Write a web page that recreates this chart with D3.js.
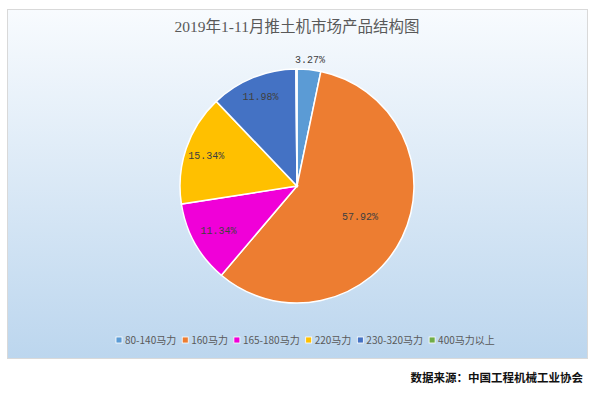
<!DOCTYPE html>
<html><head><meta charset="utf-8">
<script src="https://cdn.jsdelivr.net/npm/d3@7/dist/d3.min.js"></script>
<style>body{margin:0;background:#fff;}svg{display:block;}</style>
</head><body>
<svg id="c" width="600" height="405"></svg>
<script>
const categories = ["80-140马力","160马力","165-180马力","220马力","230-320马力","400马力以上"];
const values = [3.27, 57.92, 11.34, 15.34, 11.98, 0.15];
const labels = ["3.27%","57.92%","11.34%","15.34%","11.98%",""];
const colors = ["#5b9bd5","#ed7d31","#f000d8","#ffc000","#4472c4","#70ad47"];
const title = "2019年1-11月推土机市场产品结构图";
const source = "数据来源：中国工程机械工业协会";

const svg = d3.select("#c");
const defs = svg.append("defs");
const g = defs.append("linearGradient").attr("id","bg").attr("x1",0).attr("y1",0).attr("x2",0).attr("y2",1);
g.append("stop").attr("offset","0%").attr("stop-color","#f8fbfe");
g.append("stop").attr("offset","100%").attr("stop-color","#bcd6ee");

svg.append("rect").attr("x",7.5).attr("y",9.5).attr("width",580).attr("height",349)
  .attr("fill","url(#bg)").attr("stroke","#d9d9d9").attr("stroke-width",1);

svg.append("text").attr("x",297).attr("y",32).attr("text-anchor","middle")
  .attr("font-family","'Liberation Serif', 'Noto Sans CJK SC', serif").attr("font-size",15.5).attr("fill","#595959").text(title);

const cx = 297, cy = 186, R = 117;
const pie = d3.pie().sort(null).value(d=>d);
const arcs = pie(values);
const arc = d3.arc().innerRadius(0).outerRadius(R);
const pg = svg.append("g").attr("transform",`translate(${cx},${cy})`);
pg.selectAll("path").data(arcs).join("path").attr("d",arc)
  .attr("fill",(d,i)=>colors[i]).attr("stroke","#fff").attr("stroke-width",1.5);

const rf = [1.09,0.6,0.77,0.82,0.83,0];
pg.selectAll("text.lb").data(arcs).join("text").attr("class","lb")
  .attr("transform",(d,i)=>{const a=(d.startAngle+d.endAngle)/2; const r=R*rf[i]; return `translate(${r*Math.sin(a)},${-r*Math.cos(a)+3.5})`;})
  .attr("text-anchor","middle").attr("font-family","'Liberation Mono', monospace").attr("font-size",10)
  .attr("fill","#404040").text((d,i)=>labels[i]);

// legend
const lg = svg.append("g").attr("font-family","'Noto Sans CJK SC', sans-serif").attr("font-size",10).attr("fill","#595959");
let x = 116;
categories.forEach((c,i)=>{
  lg.append("rect").attr("x",x).attr("y",337).attr("width",6).attr("height",6).attr("fill",colors[i]).attr("stroke","#fff").attr("stroke-width",0.8);
  const t = lg.append("text").attr("x",x+9).attr("y",344).attr("fill","#595959").text(c);
  x += 9 + t.node().getComputedTextLength() + 6;
});

svg.append("text").attr("x",583).attr("y",382).attr("text-anchor","end")
  .attr("font-family","'Noto Sans CJK SC', sans-serif").attr("font-weight","bold").attr("font-size",11.5).attr("fill","#111").text(source);
</script>
</body></html>
